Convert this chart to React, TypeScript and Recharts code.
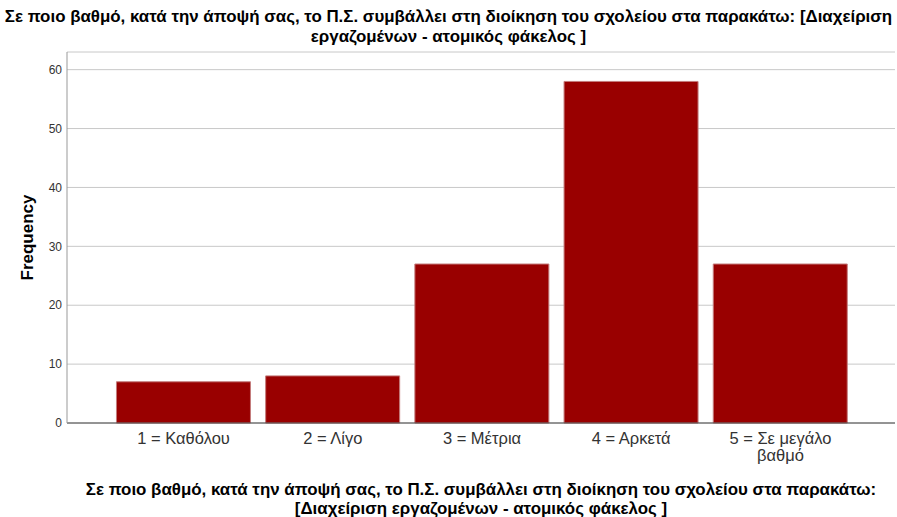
import { BarChart, Bar, XAxis, YAxis, CartesianGrid, Label, Text } from 'recharts'

const categories = ['1 = Καθόλου', '2 = Λίγο', '3 = Μέτρια', '4 = Αρκετά', '5 = Σε μεγάλο βαθμό']
const frequencies = [7, 8, 27, 58, 27]
const yTicks = [0, 10, 20, 30, 40, 50, 60]

const titleLines = [
  'Σε ποιο βαθμό, κατά την άποψή σας, το Π.Σ. συμβάλλει στη διοίκηση του σχολείου στα παρακάτω: [Διαχείριση',
  'εργαζομένων - ατομικός φάκελος ]',
]
const xTitleLines = [
  'Σε ποιο βαθμό, κατά την άποψή σας, το Π.Σ. συμβάλλει στη διοίκηση του σχολείου στα παρακάτω:',
  '[Διαχείριση εργαζομένων - ατομικός φάκελος ]',
]

const data = categories.map((name, i) => ({ name, value: frequencies[i] }))

const FONT = '"Liberation Sans", Arial, sans-serif'

function CategoryTick(props: any) {
  const { x, y, payload } = props
  return (
    <Text
      x={x}
      y={y}
      width={118}
      textAnchor="middle"
      verticalAnchor="start"
      lineHeight={17}
      fontSize={16.5}
      fontFamily={FONT}
      fill="#333"
    >
      {payload.value}
    </Text>
  )
}

export default function App() {
  return (
    <div style={{ position: 'absolute', left: 0, top: 0, width: 897, height: 517, background: '#fff', fontFamily: FONT }}>
      <div style={{ position: 'absolute', left: 0, top: 7, width: 897, textAlign: 'center', fontWeight: 'bold', fontSize: 16.9, lineHeight: '20px', color: '#000', whiteSpace: 'nowrap' }}>
        {titleLines.map(l => <div key={l}>{l}</div>)}
      </div>
      <BarChart
        width={897}
        height={517}
        data={data}
        margin={{ top: 52, right: 2, left: 27, bottom: 64 }}
        barCategoryGap="5%"
      >
        <CartesianGrid vertical={false} stroke="#c8c8c8" />
        <XAxis
          dataKey="name"
          tick={<CategoryTick />}
          tickLine={false}
          axisLine={{ stroke: '#444' }}
          padding={{ left: 42, right: 40 }}
          interval={0}
          tickMargin={3}
        />
        <YAxis
          width={40}
          domain={[0, 63]}
          ticks={yTicks}
          tickLine={false}
          tickSize={0}
          tickMargin={5}
          axisLine={{ stroke: '#999' }}
          tick={{ fontSize: 12, fill: '#333', fontFamily: FONT }}
        >
          <Label
            value="Frequency"
            angle={-90}
            position="insideLeft"
            offset={0}
            style={{ fontSize: 17, fontWeight: 'bold', fill: '#000', fontFamily: FONT, textAnchor: 'middle' }}
          />
        </YAxis>
        <Bar dataKey="value" fill="#990000" stroke="#c47c7c" strokeWidth={1} isAnimationActive={false} />
      </BarChart>
      <div style={{ position: 'absolute', left: 67, top: 480, width: 828, textAlign: 'center', fontWeight: 'bold', fontSize: 16.9, lineHeight: '19px', color: '#000', whiteSpace: 'nowrap' }}>
        {xTitleLines.map(l => <div key={l}>{l}</div>)}
      </div>
    </div>
  )
}
